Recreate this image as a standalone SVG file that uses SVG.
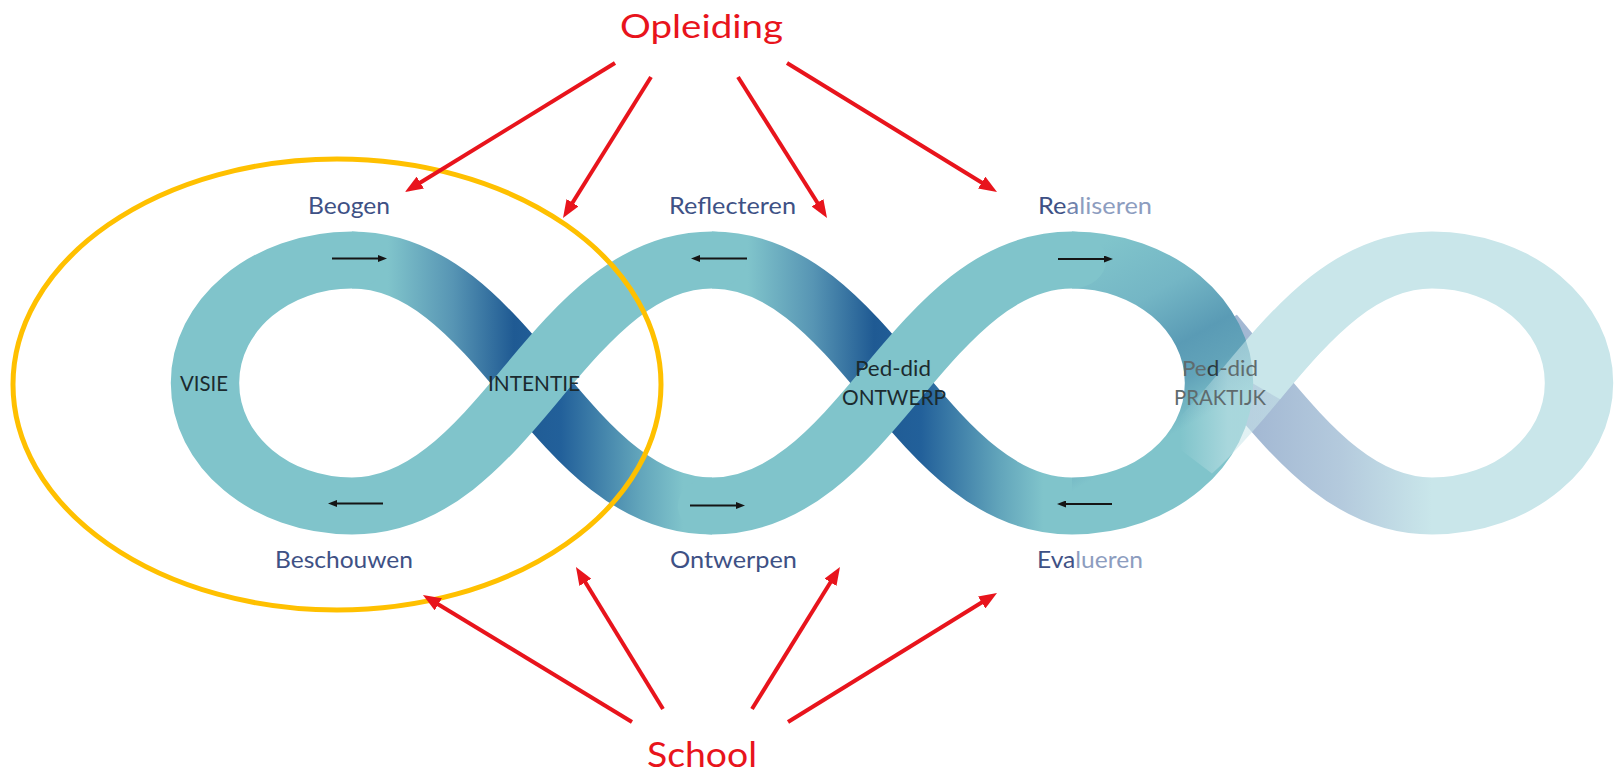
<svg xmlns="http://www.w3.org/2000/svg" width="1614" height="773" viewBox="0 0 1614 773">
<style>
.lbl{font-family:Lato,"Open Sans","Liberation Sans",sans-serif;font-size:23.5px;fill:#3e5185}
.in{font-family:Lato,"Open Sans","Liberation Sans",sans-serif;font-size:21px;fill:#1b2a2e}
.red{font-family:Lato,"Open Sans","Liberation Sans",sans-serif;fill:#e8141c}
.band{fill:none;stroke-width:57}
.ra{stroke:#e8141c;stroke-width:4;fill:none;marker-end:url(#rh)}
.sa{stroke:#151515;stroke-width:2;fill:none;marker-end:url(#sh)}
</style>
<defs>
<marker id="rh" markerUnits="userSpaceOnUse" markerWidth="18" markerHeight="14" refX="8" refY="7" orient="auto"><path d="M0,0 L18,7 L0,14 z" fill="#e8141c"/></marker>
<marker id="sh" markerUnits="userSpaceOnUse" markerWidth="9" markerHeight="7" refX="3" refY="3.5" orient="auto"><path d="M0,0 L9,3.5 L0,7 z" fill="#151515"/></marker>
<linearGradient id="gBC" gradientUnits="userSpaceOnUse" x1="0" y1="0" x2="300" y2="0">
<stop offset="0" stop-color="#80c4cb"/><stop offset="0.1" stop-color="#80c4cb"/><stop offset="0.28" stop-color="#5795b4"/><stop offset="0.45" stop-color="#1f5a93"/><stop offset="0.58" stop-color="#22609a"/><stop offset="0.8" stop-color="#62a5bb"/><stop offset="0.92" stop-color="#80c4cb"/>
</linearGradient>
<linearGradient id="gML" gradientUnits="userSpaceOnUse" x1="300" y1="0" x2="600" y2="0">
<stop offset="0" stop-color="#80c4cb"/><stop offset="0.1" stop-color="#80c4cb"/><stop offset="0.28" stop-color="#5795b4"/><stop offset="0.45" stop-color="#1f5a93"/><stop offset="0.58" stop-color="#22609a"/><stop offset="0.8" stop-color="#62a5bb"/><stop offset="0.92" stop-color="#80c4cb"/>
</linearGradient>
<linearGradient id="gR" gradientUnits="userSpaceOnUse" x1="600" y1="260" x2="722" y2="440">
<stop offset="0" stop-color="#80c4cb"/><stop offset="0.3" stop-color="#74b6c5"/><stop offset="0.55" stop-color="#5a9bb5"/><stop offset="0.7" stop-color="#62a3b9"/><stop offset="0.88" stop-color="#80c4cb"/>
</linearGradient>
<linearGradient id="gG" gradientUnits="userSpaceOnUse" x1="750" y1="0" x2="900" y2="0">
<stop offset="0" stop-color="#a3b8d3"/><stop offset="0.5" stop-color="#b4cadd"/><stop offset="1" stop-color="#c9e6ea"/>
</linearGradient>
<linearGradient id="gJ" gradientUnits="userSpaceOnUse" x1="690" y1="0" x2="730" y2="0">
<stop offset="0" stop-color="#c9e6ea" stop-opacity="0"/><stop offset="1" stop-color="#c9e6ea" stop-opacity="0.55"/>
</linearGradient>
</defs>
<rect width="1614" height="773" fill="#ffffff"/>
<g id="infinity-chain" transform="matrix(1.2 0 0 1 352 0)">
<path class="band" stroke="url(#gG)" d="M714,331 L750,383 C795,448 838,506 900,506"/>
<path class="band" stroke="#c9e6ea" d="M900,506 C968,506 1022.5,451 1022.5,383 C1022.5,315 968,260 900,260 C838,260 795,318 750,383"/>
<path class="band" stroke="url(#gBC)" d="M0,260 C62,260 105,318 150,383 C195,448 238,506 300,506"/>
<path class="band" stroke="url(#gML)" d="M300,260 C362,260 405,318 450,383 C495,448 538,506 600,506"/>
<path class="band" stroke="url(#gR)" d="M600,260 C668,260 722.5,315 722.5,383 C722.5,451 668,506 600,506"/>
<path class="band" stroke="url(#gJ)" d="M790.5,327.4 C776.8,344.8 763.5,363.5 750,383 C732,409 714.3,433.9 695.6,454.4"/>
<path class="band" stroke="#80c4cb" stroke-linecap="round" d="M300,260 C238,260 195,318 150,383 C105,448 62,506 0,506 C-68,506 -122.5,451 -122.5,383 C-122.5,315 -68,260 0,260"/>
<path class="band" stroke="#80c4cb" stroke-linecap="round" d="M300,506 C362,506 405,448 450,383 C495,318 538,260 600,260"/>
</g>
<g id="flow-arrows">
<line class="sa" x1="332" y1="258.5" x2="381" y2="258.5"/>
<line class="sa" x1="383" y1="503.5" x2="334" y2="503.5"/>
<line class="sa" x1="747" y1="258.5" x2="697" y2="258.5"/>
<line class="sa" x1="690" y1="505.5" x2="739" y2="505.5"/>
<line class="sa" x1="1058" y1="259" x2="1107" y2="259"/>
<line class="sa" x1="1112" y1="504" x2="1063" y2="504"/>
</g>
<g id="inner-labels">
<text class="in" x="180" y="391" textLength="48" lengthAdjust="spacingAndGlyphs">VISIE</text>
<text class="in" x="488" y="391" textLength="92" lengthAdjust="spacingAndGlyphs">INTENTIE</text>
<text class="in" x="855" y="376" textLength="76" lengthAdjust="spacingAndGlyphs">Ped-did</text>
<text class="in" x="842" y="405" textLength="104" lengthAdjust="spacingAndGlyphs">ONTWERP</text>
<text class="in" x="1182" y="376" textLength="76" lengthAdjust="spacingAndGlyphs" style="fill:#5f6b6d">Pe<tspan style="fill:#2c3a3e">d</tspan>-did</text>
<text class="in" x="1174" y="405" textLength="92" lengthAdjust="spacingAndGlyphs" style="fill:#5f6b6d">PRAKTIJK</text>
</g>
<g id="step-labels">
<text class="lbl" x="308" y="213.5" textLength="82" lengthAdjust="spacingAndGlyphs">Beogen</text>
<text class="lbl" x="669" y="213.5" textLength="127" lengthAdjust="spacingAndGlyphs">Reflecteren</text>
<text class="lbl" x="1038" y="213.5" textLength="114" lengthAdjust="spacingAndGlyphs">Re<tspan style="fill:#7083ad">a</tspan><tspan style="fill:#8d9dbf">liseren</tspan></text>
<text class="lbl" x="275" y="568" textLength="138" lengthAdjust="spacingAndGlyphs">Beschouwen</text>
<text class="lbl" x="670" y="568" textLength="127" lengthAdjust="spacingAndGlyphs">Ontwerpen</text>
<text class="lbl" x="1037" y="568" textLength="106" lengthAdjust="spacingAndGlyphs">Eva<tspan style="fill:#8d9dbf">lueren</tspan></text>
</g>
<g id="focus-ellipse">
<ellipse cx="337" cy="384.5" rx="324" ry="225.5" fill="none" stroke="#ffc000" stroke-width="5"/>
</g>
<g id="opleiding">
<text class="red" x="620" y="38" font-size="32" textLength="163" lengthAdjust="spacingAndGlyphs">Opleiding</text>
</g>
<g id="school">
<text class="red" x="647" y="767" font-size="35" textLength="110" lengthAdjust="spacingAndGlyphs">School</text>
</g>
<g id="connectors">
<line class="ra" x1="615" y1="63" x2="413.5" y2="186.8"/>
<line class="ra" x1="651" y1="77" x2="568.3" y2="209.5"/>
<line class="ra" x1="738" y1="77" x2="821.7" y2="209.5"/>
<line class="ra" x1="787" y1="63" x2="988.5" y2="186.8"/>
<line class="ra" x1="632" y1="722" x2="431.5" y2="600.2"/>
<line class="ra" x1="663" y1="709" x2="581.2" y2="575.5"/>
<line class="ra" x1="752" y1="709" x2="834.7" y2="575.5"/>
<line class="ra" x1="788" y1="722" x2="988.5" y2="598.3"/>
</g>
</svg>
